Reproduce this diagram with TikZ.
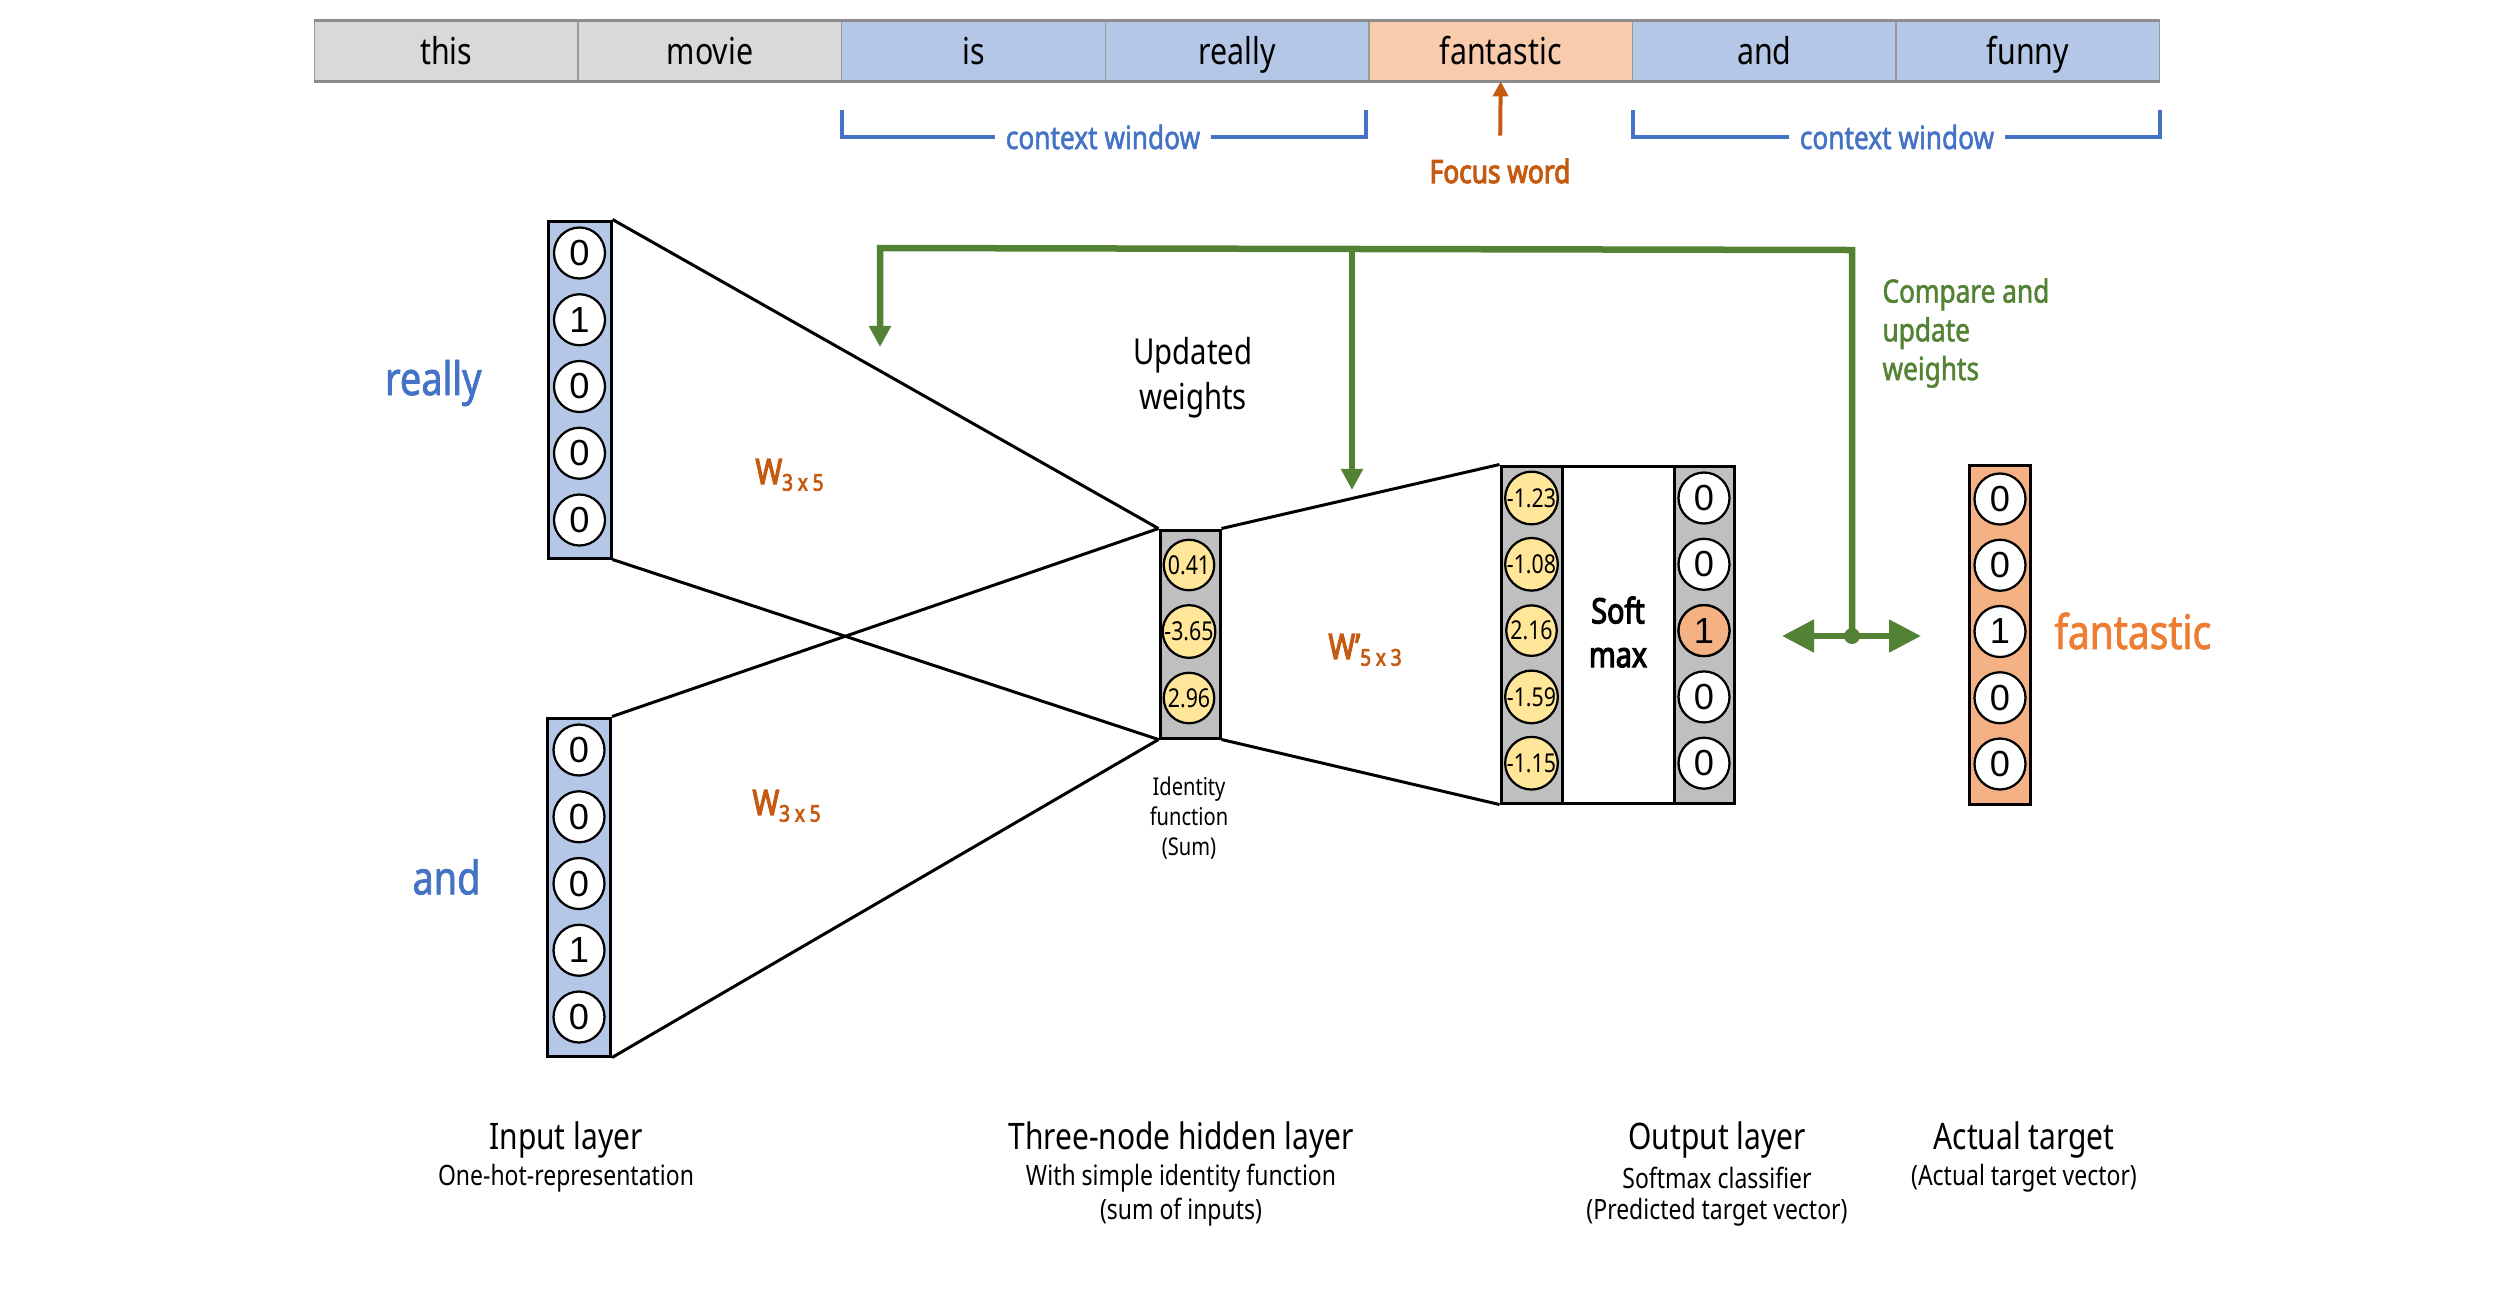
\documentclass[tikz,border=0pt]{standalone}
\usepackage{fontspec}
\setmainfont[FakeStretch=0.82]{Noto Sans}
\newfontfamily\medfont[FakeStretch=0.82,FakeBold=1.6]{Noto Sans}
\newfontfamily\bldfont[FakeStretch=0.82,FakeBold=3.2]{Noto Sans}
\newfontfamily\digitfont{Liberation Sans}
\usetikzlibrary{arrows.meta}
\definecolor{cgray}{HTML}{D9D9D9}
\definecolor{cblue}{HTML}{B4C7E7}
\definecolor{corange}{HTML}{F8CBAD}
\definecolor{tblue}{HTML}{4472C4}
\definecolor{tdorange}{HTML}{C55A11}
\definecolor{tgreen}{HTML}{548235}
\definecolor{oneorange}{HTML}{F4B183}
\definecolor{boxgray}{HTML}{BFBFBF}
\definecolor{yel}{HTML}{FFE699}
\definecolor{fanta}{HTML}{ED7D31}
\begin{document}
\begin{tikzpicture}[x=0.4pt,y=-0.4pt,
  wordcell/.style={draw=gray!80, line width=0.5pt, minimum width=105.4pt, minimum height=24pt, inner sep=0pt, text height=13pt, text depth=2pt, font=\fontsize{14.8}{16}\selectfont},
  vecbox/.style={draw=black, line width=1.2pt, inner sep=0pt},
  bit/.style={circle, draw=black, line width=0.9pt, fill=white, minimum size=20.4pt, inner sep=0pt, font=\digitfont\fontsize{14.5}{15}\selectfont},
  val/.style={circle, draw=black, line width=0.9pt, fill=yel, minimum size=20.2pt, inner sep=0pt, font=\fontsize{10.4}{11}\selectfont},
  conn/.style={draw=black, line width=1.2pt},
  bracket/.style={draw=tblue, line width=1.6pt},
  ctx/.style={text=tblue, font=\medfont\fontsize{12.8}{14}\selectfont, inner sep=4pt},
  wlabel/.style={text=tdorange, font=\bldfont\fontsize{14}{16}\selectfont, anchor=base west, inner sep=0pt},
  garrow/.style={draw=tgreen, line width=2.6pt, -{Triangle[length=8.5pt,width=8.5pt]}},
  gbig/.style={draw=tgreen, line width=2.6pt, {Triangle[length=12.8pt,width=12.6pt]}-{Triangle[length=12.8pt,width=12.6pt]}},
  ttl/.style={font=\fontsize{14.6}{16}\selectfont},
  sub/.style={font=\fontsize{11.2}{13}\selectfont}
]
\newcommand\wsub[1]{\raisebox{-0.35ex}{\fontsize{9.2}{10}\selectfont #1}}
\useasboundingbox (0,0) rectangle (2500,1289);

% ---------- word bar ----------
\foreach \w/\c [count=\i] in {this/cgray,movie/cgray,is/cblue,really/cblue,fantastic/corange,and/cblue,funny/cblue}
  \node[wordcell, fill=\c] (w\i) at ({314.5+263.6*(\i-0.5)},50.7) {\w};
\draw[gray!90, line width=1.2pt] (w1.north west) -- (w7.north east);
\draw[gray!90, line width=1.2pt] (w1.south west) -- (w7.south east);

% context windows
\coordinate (b1a) at (841.6,110);
\coordinate (b1b) at (1366,110);
\node[ctx] (ctx1) at (1103,137) {context window};
\draw[bracket] (b1a) |- (ctx1.west);
\draw[bracket] (ctx1.east) -| (b1b);
\coordinate (b2a) at (1633,110);
\coordinate (b2b) at (2160,110);
\node[ctx] (ctx2) at (1897,137) {context window};
\draw[bracket] (b2a) |- (ctx2.west);
\draw[bracket] (ctx2.east) -| (b2b);

% focus word
\node[text=tdorange, font=\bldfont\fontsize{12.8}{14}\selectfont, inner sep=0pt] (focus) at (1500,171) {Focus word};
\draw[tdorange, line width=1.6pt, -{Triangle[length=6pt,width=6pt]}, shorten <=9pt] (focus.north) -- (w5.south);

% ---------- input layers ----------
\node[vecbox, fill=cblue, minimum width=25.2pt, minimum height=134.8pt] (inA) at (579.5,389.5) {};
\foreach \v [count=\i] in {0,1,0,0,0}
  \node[bit] (a\i) at (579.5,{253+66.75*(\i-1)}) {\v};
\node[vecbox, fill=cblue, minimum width=25.2pt, minimum height=135.2pt] (inB) at (579,887) {};
\foreach \v [count=\i] in {0,0,0,1,0}
  \node[bit] (b\i) at (579,{750+66.75*(\i-1)}) {\v};

\node[text=tblue, font=\medfont\fontsize{18.5}{20}\selectfont, anchor=east, inner sep=0pt] (lreally) at (482,383) {really};
\node[text=tblue, font=\medfont\fontsize{18.5}{20}\selectfont, anchor=east, inner sep=0pt] (land) at (481,877) {and};

% ---------- hidden layer ----------
\node[vecbox, fill=boxgray, minimum width=24pt, minimum height=83.2pt] (hid) at (1190,634) {};
\foreach \v [count=\i] in {0.41,-3.65,2.96}
  \node[val] (h\i) at (1189,{565+66.5*(\i-1)}) {\v};

% connections input -> hidden
\draw[conn] (inA.north east) -- (hid.north west);
\draw[conn] (inA.south east) -- (hid.south west);
\draw[conn] (inB.north east) -- (hid.north west);
\draw[conn] (inB.south east) -- (hid.south west);

% ---------- output layer ----------
\node[vecbox, fill=boxgray, minimum width=93.2pt, minimum height=134.8pt] (outb) at (1617.5,634.5) {};
\node[vecbox, fill=white, minimum width=44.8pt, minimum height=134.8pt] (soft) at (1618,634.5) {};
\node[font=\bldfont\fontsize{14}{17.5}\selectfont, align=center, inner sep=0pt] (softlbl) at (1618,632) {Soft\\max};
\foreach \v [count=\i] in {-1.23,-1.08,2.16,-1.59,-1.15}
  \node[val] (o\i) at (1531.5,{498+66.3*(\i-1)}) {\v};
\foreach \v [count=\i] in {0,0,1,0,0}
  \node[bit] (p\i) at (1704,{498+66.3*(\i-1)}) {\v};
\node[bit, fill=oneorange] (p3) at (1704,{498+66.3*2}) {1};

% connections hidden -> output
\draw[conn] (hid.north east) -- (outb.north west);
\draw[conn] (hid.south east) -- (outb.south west);

% ---------- actual target ----------
\node[vecbox, fill=oneorange, minimum width=24.4pt, minimum height=135.4pt] (tgt) at (1999.5,634.8) {};
\foreach \v [count=\i] in {0,0,1,0,0}
  \node[bit] (t\i) at (2000,{499+66.25*(\i-1)}) {\v};
\node[text=fanta, font=\medfont\fontsize{19}{21}\selectfont, anchor=west, inner sep=0pt] (lfan) at (2054,631) {fantastic};

% ---------- weight labels ----------
\node[wlabel] (wa) at (755,484) {W\wsub{3 x 5}};
\node[wlabel] (wb) at (752,815) {W\wsub{3 x 5}};
\node[wlabel] (wc) at (1328,659) {W’\wsub{5 x 3}};

\node[font=\fontsize{14.3}{18}\selectfont, align=center, inner sep=0pt] (upd) at (1193,378) {Updated\\weights};
\node[font=\fontsize{9.8}{12}\selectfont, align=center, inner sep=0pt] (idf) at (1189,818) {Identity\\function\\(Sum)};

% ---------- green feedback arrows ----------
\coordinate (gD) at (1852,636);
\coordinate (gR) at (1852,250);
\coordinate (gM) at (1352,249);
\coordinate (gL) at (880,248);
\coordinate (tipL) at (880,347);
\coordinate (tipM) at (1352,490);
\coordinate (tipHL) at (1782,636);
\coordinate (tipHR) at (1921,636);
\draw[garrow, line join=miter] (gD) -- (gR) -- (gL) -- (tipL);
\draw[garrow] (gM) -- (tipM);
\draw[gbig] (tipHL) -- (tipHR);
\fill[tgreen] (gD) circle (8);
\node[text=tgreen, font=\medfont\fontsize{12.8}{15.5}\selectfont, align=left, anchor=west, inner sep=0pt] (cmp) at (1882,333) {Compare and\\update\\weights};

% ---------- bottom captions ----------
\node[ttl] (c1) at (566,1140) {Input layer};
\node[sub] (c1s) at (566,1178) {One-hot-representation};
\node[ttl] (c2) at (1181,1140) {Three-node hidden layer};
\node[sub] (c2s) at (1181,1178) {With simple identity function};
\node[sub] (c2t) at (1181,1212) {(sum of inputs)};
\node[ttl] (c3) at (1717,1140) {Output layer};
\node[sub] (c3s) at (1717,1178) {Softmax classifier};
\node[sub] (c3t) at (1717,1212) {(Predicted target vector)};
\node[ttl] (c4) at (2024,1140) {Actual target};
\node[sub] (c4s) at (2024,1178) {(Actual target vector)};
\end{tikzpicture}
\end{document}
